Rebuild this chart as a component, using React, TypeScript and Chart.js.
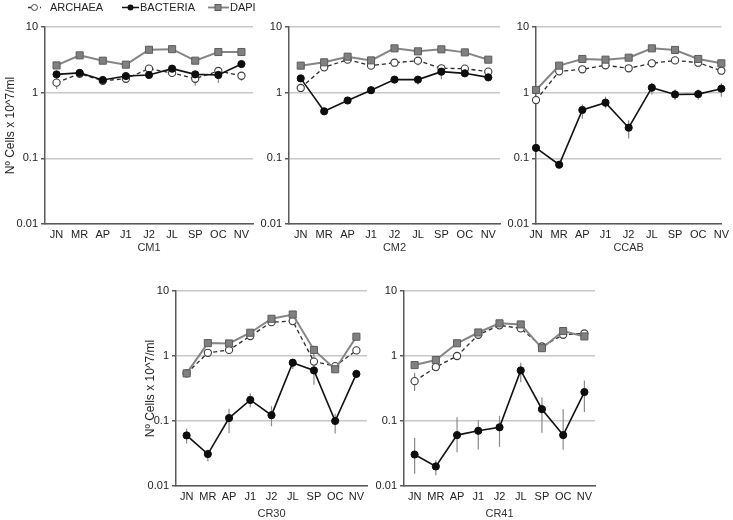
import React, { useEffect, useRef } from "react";
import { Chart, registerables } from "chart.js";

Chart.register(...registerables);
Chart.defaults.font.family = "'Liberation Sans', Arial, sans-serif";
Chart.defaults.color = "#222";

const MONTHS = ["JN", "MR", "AP", "J1", "J2", "JL", "SP", "OC", "NV"];
const Y_TICKS = [0.01, 0.1, 1, 10];
const SERIES = ["ARCHAEA", "BACTERIA", "DAPI"];
const Y_TITLE = "Nº Cells x 10^7/ml";

type Err = [number, number] | null;

// CM1
const CM1_ARCHAEA = [1.42, 1.94, 1.52, 1.63, 2.32, 2.0, 1.63, 2.14, 1.81];
const CM1_BACTERIA = [1.9, 2.0, 1.56, 1.79, 1.86, 2.32, 1.9, 1.86, 2.73];
const CM1_DAPI = [2.6, 3.7, 3.07, 2.67, 4.5, 4.6, 3.07, 4.16, 4.16];
const CM1_ARCHAEA_ERR: Err[] = [[1.14, 1.7], null, [1.4, 1.65], null, null, null, [1.28, 2.11], [1.4, 2.3], [1.52, 2.0]];
const CM1_BACTERIA_ERR: Err[] = [null, null, null, null, null, null, null, null, null];
const CM1_DAPI_ERR: Err[] = [null, null, null, null, null, null, null, null, null];

// CM2
const CM2_ARCHAEA = [1.18, 2.43, 3.18, 2.58, 2.86, 3.07, 2.35, 2.32, 2.09];
const CM2_BACTERIA = [1.65, 0.52, 0.76, 1.09, 1.58, 1.58, 2.09, 1.97, 1.71];
const CM2_DAPI = [2.58, 2.9, 3.53, 3.1, 4.73, 4.26, 4.57, 4.11, 3.18];
const CM2_ARCHAEA_ERR: Err[] = [null, null, null, null, null, [2.6, 3.4], null, null, null];
const CM2_BACTERIA_ERR: Err[] = [null, null, null, null, null, [1.32, 1.7], [1.6, 2.3], null, null];
const CM2_DAPI_ERR: Err[] = [null, null, null, null, null, null, null, null, null];

// CCAB
const CCAB_ARCHAEA = [0.77, 2.11, 2.27, 2.61, 2.35, 2.8, 3.1, 2.86, 2.16];
const CCAB_BACTERIA = [0.144, 0.08, 0.545, 0.705, 0.293, 1.19, 0.94, 0.95, 1.15];
const CCAB_DAPI = [1.1, 2.58, 3.26, 3.18, 3.41, 4.73, 4.47, 3.26, 2.8];
const CCAB_ARCHAEA_ERR: Err[] = [null, null, null, null, null, null, null, null, null];
const CCAB_BACTERIA_ERR: Err[] = [null, null, [0.4, 0.66], [0.58, 0.87], [0.2, 0.38], [0.94, 1.42], [0.77, 1.12], [0.78, 1.12], [0.87, 1.39]];
const CCAB_DAPI_ERR: Err[] = [null, null, null, null, null, null, null, null, null];

// CR30
const CR30_ARCHAEA = [0.54, 1.12, 1.24, 2.03, 3.32, 3.44, 0.82, 0.7, 1.22];
const CR30_BACTERIA = [0.06, 0.031, 0.111, 0.211, 0.123, 0.79, 0.6, 0.1, 0.53];
const CR30_DAPI = [0.54, 1.58, 1.56, 2.28, 3.74, 4.35, 1.24, 0.625, 1.98];
const CR30_ARCHAEA_ERR: Err[] = [null, null, null, null, null, null, [0.75, 1.44], [0.56, 0.75], null];
const CR30_BACTERIA_ERR: Err[] = [[0.045, 0.076], [0.024, 0.036], [0.065, 0.154], [0.163, 0.268], [0.083, 0.169], [0.63, 0.9], [0.36, 0.73], [0.064, 0.129], [0.455, 0.617]];
const CR30_DAPI_ERR: Err[] = [[0.47, 0.6], null, null, null, null, null, null, null, null];

// CR41
const CR41_ARCHAEA = [0.41, 0.675, 1.0, 2.12, 2.96, 2.66, 1.4, 2.12, 2.22];
const CR41_BACTERIA = [0.0305, 0.02, 0.0607, 0.0708, 0.08, 0.6, 0.152, 0.0607, 0.279];
const CR41_DAPI = [0.725, 0.867, 1.57, 2.3, 3.18, 3.06, 1.32, 2.42, 2.0];
const CR41_ARCHAEA_ERR: Err[] = [[0.29, 0.55], null, null, null, null, null, null, null, null];
const CR41_BACTERIA_ERR: Err[] = [[0.0155, 0.055], [0.0146, 0.025], [0.033, 0.114], [0.0365, 0.104], [0.04, 0.12], [0.395, 0.79], [0.066, 0.23], [0.036, 0.152], [0.137, 0.42]];
const CR41_DAPI_ERR: Err[] = [null, null, null, null, null, null, null, null, null];

const errorBarPlugin = {
  id: "errorBars",
  beforeDatasetsDraw(chart: any) {
    const { ctx, scales } = chart;
    const x = scales.x;
    const y = scales.y;
    ctx.save();
    ctx.strokeStyle = "#8a8a8a";
    ctx.lineWidth = 1.2;
    chart.data.datasets.forEach((ds: any) => {
      const errs: Err[] = ds.errorBars;
      if (!errs) return;
      errs.forEach((e, i) => {
        if (!e) return;
        const px = x.getPixelForValue(i);
        ctx.beginPath();
        ctx.moveTo(px, y.getPixelForValue(e[0]));
        ctx.lineTo(px, y.getPixelForValue(e[1]));
        ctx.stroke();
      });
    });
    ctx.restore();
  },
};

const legendPlugin = {
  id: "topLegend",
  afterDraw(chart: any) {
    const ctx = chart.ctx;
    const y = 7.5;
    ctx.save();
    ctx.font = "11px 'Liberation Sans', Arial, sans-serif";
    ctx.textBaseline = "middle";
    ctx.textAlign = "left";
    // ARCHAEA
    ctx.strokeStyle = "#333";
    ctx.lineWidth = 1.3;
    ctx.setLineDash([3, 3]);
    ctx.beginPath();
    ctx.moveTo(28, y);
    ctx.lineTo(41, y);
    ctx.stroke();
    ctx.setLineDash([]);
    ctx.beginPath();
    ctx.arc(34.5, y, 3, 0, Math.PI * 2);
    ctx.fillStyle = "#fff";
    ctx.fill();
    ctx.lineWidth = 1;
    ctx.strokeStyle = "#444";
    ctx.stroke();
    ctx.fillStyle = "#222";
    ctx.fillText(SERIES[0], 50, y);
    // BACTERIA
    ctx.strokeStyle = "#111";
    ctx.lineWidth = 1.5;
    ctx.beginPath();
    ctx.moveTo(122, y);
    ctx.lineTo(139, y);
    ctx.stroke();
    ctx.beginPath();
    ctx.arc(130.5, y, 3, 0, Math.PI * 2);
    ctx.fillStyle = "#111";
    ctx.fill();
    ctx.fillStyle = "#222";
    ctx.fillText(SERIES[1], 140, y);
    // DAPI
    ctx.strokeStyle = "#808080";
    ctx.lineWidth = 1.8;
    ctx.beginPath();
    ctx.moveTo(208, y);
    ctx.lineTo(229, y);
    ctx.stroke();
    ctx.fillStyle = "#858585";
    ctx.fillRect(215, y - 3, 6, 6);
    ctx.strokeStyle = "#5a5a5a";
    ctx.lineWidth = 1;
    ctx.strokeRect(215, y - 3, 6, 6);
    ctx.fillStyle = "#222";
    ctx.fillText(SERIES[2], 230, y);
    ctx.restore();
  },
};

type PanelProps = {
  title: string;
  archaea: number[];
  bacteria: number[];
  dapi: number[];
  archaeaErr: Err[];
  bacteriaErr: Err[];
  dapiErr: Err[];
  x0: number;
  y0: number;
  width: number;
  height: number;
  yAxisW: number;
  xAxisH: number;
  padTop: number;
  padRight: number;
  offset: boolean;
  yTitle: boolean;
  legend: boolean;
};

function Panel(p: PanelProps) {
  const ref = useRef<HTMLCanvasElement | null>(null);
  useEffect(() => {
    if (!ref.current) return;
    const chart = new Chart(ref.current, {
      type: "line",
      data: {
        labels: MONTHS,
        datasets: [
          {
            label: SERIES[0],
            data: p.archaea,
            order: 3,
            borderColor: "#2a2a2a",
            borderWidth: 1.3,
            borderDash: [4, 3],
            pointStyle: "circle",
            pointRadius: 3.6,
            pointBackgroundColor: "#ffffff",
            pointBorderColor: "#3a3a3a",
            pointBorderWidth: 1.1,
            clip: false,
            errorBars: p.archaeaErr,
          } as any,
          {
            label: SERIES[1],
            data: p.bacteria,
            order: 2,
            borderColor: "#111111",
            borderWidth: 1.6,
            pointStyle: "circle",
            pointRadius: 3.6,
            pointBackgroundColor: "#0d0d0d",
            pointBorderColor: "#0d0d0d",
            pointBorderWidth: 1,
            clip: false,
            errorBars: p.bacteriaErr,
          } as any,
          {
            label: SERIES[2],
            data: p.dapi,
            order: 1,
            borderColor: "#858585",
            borderWidth: 2,
            pointStyle: "rect",
            pointRadius: 5,
            pointBackgroundColor: "#808080",
            pointBorderColor: "#5c5c5c",
            pointBorderWidth: 1,
            clip: false,
            errorBars: p.dapiErr,
          } as any,
        ],
      },
      options: {
        animation: false,
        responsive: false,
        devicePixelRatio: 1,
        layout: { padding: { top: p.padTop, right: p.padRight, left: 0, bottom: 0 } },
        plugins: { legend: { display: false }, tooltip: { enabled: false } },
        scales: {
          x: {
            type: "category",
            offset: p.offset,
            grid: { display: false, drawTicks: false },
            border: { display: true, color: "#5a5a5a", width: 1.5 },
            ticks: { padding: 4, font: { size: 11 }, color: "#222", maxRotation: 0, autoSkip: false },
            title: { display: true, text: p.title, font: { size: 11 }, color: "#333", padding: { top: 0, bottom: 0 } },
            afterFit: (s: any) => {
              s.height = p.xAxisH;
            },
          },
          y: {
            type: "logarithmic",
            min: 0.01,
            max: 10,
            afterBuildTicks: (s: any) => {
              s.ticks = Y_TICKS.map((v) => ({ value: v }));
            },
            afterFit: (s: any) => {
              s.width = p.yAxisW;
            },
            grid: { color: "#c8c8c8", lineWidth: 1.5, tickColor: "#5a5a5a", tickLength: 4, drawTicks: true },
            border: { display: true, color: "#5a5a5a", width: 1.5 },
            ticks: {
              padding: 3,
              font: { size: 11 },
              color: "#222",
              autoSkip: false,
              callback: (v: any) => String(v),
            },
            title: {
              display: p.yTitle,
              text: Y_TITLE,
              font: { size: 12 },
              color: "#222",
              padding: { top: 3, bottom: 0 },
            },
          },
        },
      } as any,
      plugins: p.legend ? [errorBarPlugin, legendPlugin] : [errorBarPlugin],
    });
    return () => chart.destroy();
  }, []);
  return (
    <canvas
      ref={ref}
      width={p.width}
      height={p.height}
      style={{ position: "absolute", left: p.x0, top: p.y0, width: p.width, height: p.height, display: "block" }}
    />
  );
}

export default function App() {
  return (
    <div style={{ position: "absolute", left: 0, top: 0, width: 733, height: 520, background: "#fff", overflow: "hidden" }}>
      <Panel title="CM1" archaea={CM1_ARCHAEA} bacteria={CM1_BACTERIA} dapi={CM1_DAPI}
        archaeaErr={CM1_ARCHAEA_ERR} bacteriaErr={CM1_BACTERIA_ERR} dapiErr={CM1_DAPI_ERR}
        x0={0} y0={0} width={261} height={255} yAxisW={45} xAxisH={31} padTop={27} padRight={8}
        offset={true} yTitle={true} legend={true} />
      <Panel title="CM2" archaea={CM2_ARCHAEA} bacteria={CM2_BACTERIA} dapi={CM2_DAPI}
        archaeaErr={CM2_ARCHAEA_ERR} bacteriaErr={CM2_BACTERIA_ERR} dapiErr={CM2_DAPI_ERR}
        x0={253} y0={0} width={255} height={255} yAxisW={36} xAxisH={31} padTop={27} padRight={8}
        offset={true} yTitle={false} legend={false} />
      <Panel title="CCAB" archaea={CCAB_ARCHAEA} bacteria={CCAB_BACTERIA} dapi={CCAB_DAPI}
        archaeaErr={CCAB_ARCHAEA_ERR} bacteriaErr={CCAB_BACTERIA_ERR} dapiErr={CCAB_DAPI_ERR}
        x0={500} y0={0} width={233} height={255} yAxisW={36} xAxisH={31} padTop={27} padRight={11}
        offset={false} yTitle={false} legend={false} />
      <Panel title="CR30" archaea={CR30_ARCHAEA} bacteria={CR30_BACTERIA} dapi={CR30_DAPI}
        archaeaErr={CR30_ARCHAEA_ERR} bacteriaErr={CR30_BACTERIA_ERR} dapiErr={CR30_DAPI_ERR}
        x0={140} y0={281} width={235} height={240} yAxisW={36} xAxisH={35} padTop={10} padRight={8}
        offset={true} yTitle={true} legend={false} />
      <Panel title="CR41" archaea={CR41_ARCHAEA} bacteria={CR41_BACTERIA} dapi={CR41_DAPI}
        archaeaErr={CR41_ARCHAEA_ERR} bacteriaErr={CR41_BACTERIA_ERR} dapiErr={CR41_DAPI_ERR}
        x0={368} y0={281} width={235} height={240} yAxisW={36} xAxisH={35} padTop={10} padRight={8}
        offset={true} yTitle={false} legend={false} />
    </div>
  );
}
